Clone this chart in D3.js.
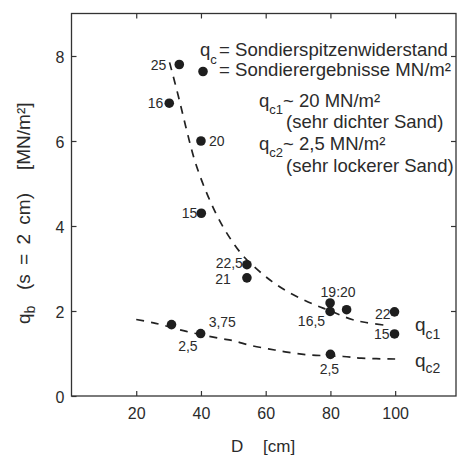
<!DOCTYPE html>
<html>
<head>
<meta charset="utf-8">
<script src="https://d3js.org/d3.v7.min.js"></script>
<style>
  body { margin: 0; background: #fff; }
  svg { display: block; font-family: "Liberation Sans", Arial, sans-serif; }
  .tick text { fill: #2b2b2b; font-size: 16px; }
  .tick line { stroke: #333; stroke-width: 1.2px; }
  text { fill: #2b2b2b; }
</style>
</head>
<body>
<svg id="chart" width="459" height="458"></svg>
<script>
// measured points, q_c1 (dense sand)
var upperD = [33.3, 30.2, 40.0, 40.1, 54.2, 54.2, 79.9, 79.9, 85.0, 99.8, 99.8];
var upperQ = [7.80, 6.89, 6.00, 4.30, 3.09, 2.78, 2.19, 1.99, 2.03, 1.98, 1.46];
var upperLabels = ["25", "16", "20", "15", "22,5", "21", "19:20", "16,5", "", "22", "15"];

// measured points, q_c2 (loose sand)
var lowerD = [30.9, 39.9, 80.0];
var lowerQ = [1.68, 1.47, 0.98];
var lowerLabels = ["", "3,75", "2,5"];
var lowerLabels2 = ["", "2,5", ""];

// dashed trend curves
var curve1D = [30.3, 33.0, 35.5, 38.2, 42.3, 47.2, 53.0, 57.8, 62.0, 66.0, 70.7, 75.3, 79.4, 86.7, 91.0, 97.5];
var curve1Q = [7.85, 7.06, 6.28, 5.51, 4.68, 3.93, 3.30, 2.95, 2.69, 2.49, 2.30, 2.14, 2.02, 1.80, 1.73, 1.66];
var curve2D = [20.0, 26.0, 35.5, 45.5, 50.0, 55.3, 60.8, 66.0, 73.0, 84.0, 89.5, 100.0];
var curve2Q = [1.80, 1.71, 1.52, 1.36, 1.30, 1.19, 1.11, 1.04, 0.97, 0.93, 0.89, 0.87];

var xTicks = [20, 40, 60, 80, 100];
var yTicks = [0, 2, 4, 6, 8];

var svg = d3.select("#chart");

var x = d3.scaleLinear().domain([0, 118.8]).range([71.5, 456]);
var y = d3.scaleLinear().domain([0, 9]).range([396, 13.5]);

// frame
svg.append("rect")
  .attr("x", x(0)).attr("y", y(9))
  .attr("width", x(118.8) - x(0)).attr("height", y(0) - y(9))
  .attr("fill", "none").attr("stroke", "#333").attr("stroke-width", 1.3);

// axes (ticks inside)
var gx = svg.append("g").attr("transform", "translate(0," + y(0) + ")")
  .call(d3.axisBottom(x).tickValues(xTicks).tickSizeInner(-5).tickSizeOuter(0).tickPadding(12));
var gy = svg.append("g").attr("transform", "translate(" + x(0) + ",0)")
  .call(d3.axisLeft(y).tickValues(yTicks).tickSizeInner(-5).tickSizeOuter(0).tickPadding(7));
var gt = svg.append("g").attr("transform", "translate(0," + y(9) + ")")
  .call(d3.axisTop(x).tickValues(xTicks).tickFormat("").tickSizeInner(-5).tickSizeOuter(0));
var gr = svg.append("g").attr("transform", "translate(" + x(118.8) + ",0)")
  .call(d3.axisRight(y).tickValues([2, 4, 6, 8]).tickFormat("").tickSizeInner(-5).tickSizeOuter(0));
[gx, gy, gt, gr].forEach(function(g) { g.select(".domain").remove(); });
gy.selectAll(".tick text").attr("dy", "0.4em");

// dashed curves
var line = d3.line()
  .x(function(d) { return x(d[0]); })
  .y(function(d) { return y(d[1]); })
  .curve(d3.curveCatmullRom);

svg.append("path")
  .attr("d", line(d3.zip(curve1D, curve1Q)))
  .attr("fill", "none").attr("stroke", "#222")
  .attr("stroke-width", 1.7).attr("stroke-dasharray", "8,7");
svg.append("path")
  .attr("d", line(d3.zip(curve2D, curve2Q)))
  .attr("fill", "none").attr("stroke", "#222")
  .attr("stroke-width", 1.7).attr("stroke-dasharray", "8,7");

// points
var allD = upperD.concat(lowerD), allQ = upperQ.concat(lowerQ);
svg.selectAll("circle.pt").data(d3.range(allD.length)).enter()
  .append("circle").attr("class", "pt")
  .attr("cx", function(i) { return x(allD[i]); })
  .attr("cy", function(i) { return y(allQ[i]); })
  .attr("r", 4.8).attr("fill", "#1e1e1e");

// point labels: [anchor, dx, dy] per label
var upperPos = [["end", -13, 5.5], ["end", -6, 5], ["start", 8, 5], ["end", -4, 5],
  ["end", -4, 3], ["end", -16, 6], ["middle", 8, -6], ["end", -5, 14.5], ["start", 0, 0],
  ["end", -4, 7], ["end", -5, 5]];
var lowerPos = [["start", 0, 0], ["start", 8, -7], ["middle", -1, 20]];
var lowerPos2 = [["start", 0, 0], ["end", -3, 17], ["start", 0, 0]];

function labels(ds, qs, txt, pos) {
  ds.forEach(function(d, i) {
    if (!txt[i]) return;
    svg.append("text")
      .attr("x", x(d) + pos[i][1])
      .attr("y", y(qs[i]) + pos[i][2])
      .attr("text-anchor", pos[i][0])
      .style("font-size", "14px")
      .text(txt[i]);
  });
}
labels(upperD, upperQ, upperLabels, upperPos);
labels(lowerD, lowerQ, lowerLabels, lowerPos);
labels(lowerD, lowerQ, lowerLabels2, lowerPos2);

// q with subscript helper
function qsub(px, py, sub, size, subSize, shift) {
  var t = svg.append("text").attr("x", px).attr("y", py).style("font-size", size + "px");
  t.append("tspan").text("q");
  t.append("tspan").attr("dy", shift).style("font-size", subSize + "px").text(sub);
  return t;
}

// legend
qsub(200, 56, "c", 18.5, 13, 8);
svg.append("text").attr("x", 219).attr("y", 56).style("font-size", "18.6px")
  .text("= Sondierspitzenwiderstand");
svg.append("circle").attr("cx", 203).attr("cy", 71.5).attr("r", 4.8).attr("fill", "#1e1e1e");
svg.append("text").attr("x", 219).attr("y", 76).style("font-size", "18.6px")
  .text("= Sondierergebnisse MN/m²");

var t1 = qsub(259, 107, "c1", 18.5, 13, 7);
t1.append("tspan").attr("dy", -7).text("~ 20 MN/m²");
svg.append("text").attr("x", 286).attr("y", 128).style("font-size", "18.5px")
  .text("(sehr dichter Sand)");
var t2 = qsub(259, 150, "c2", 18.5, 13, 7);
t2.append("tspan").attr("dy", -7).text("~ 2,5 MN/m²");
svg.append("text").attr("x", 286).attr("y", 172).style("font-size", "18.5px")
  .text("(sehr lockerer Sand)");

// curve names
qsub(415, 331, "c1", 19, 14, 8);
qsub(415, 367, "c2", 19, 14, 6);

// axis titles
svg.append("text").attr("x", 231).attr("y", 452).style("font-size", "17px").text("D");
svg.append("text").attr("x", 263).attr("y", 452).style("font-size", "17px").text("[cm]");

var yl = svg.append("g").attr("transform", "translate(30,0) rotate(-90)");
var yq = yl.append("text").attr("x", -324).attr("y", 0).style("font-size", "19px");
yq.append("tspan").text("q");
yq.append("tspan").attr("dy", 5).style("font-size", "14px").text("b");
yl.append("text").attr("x", -290).attr("y", 0).style("font-size", "19px")
  .style("word-spacing", "4px").text("(s = 2 cm)");
yl.append("text").attr("x", -170).attr("y", 0).style("font-size", "19px").text("[MN/m²]");
</script>
</body>
</html>
